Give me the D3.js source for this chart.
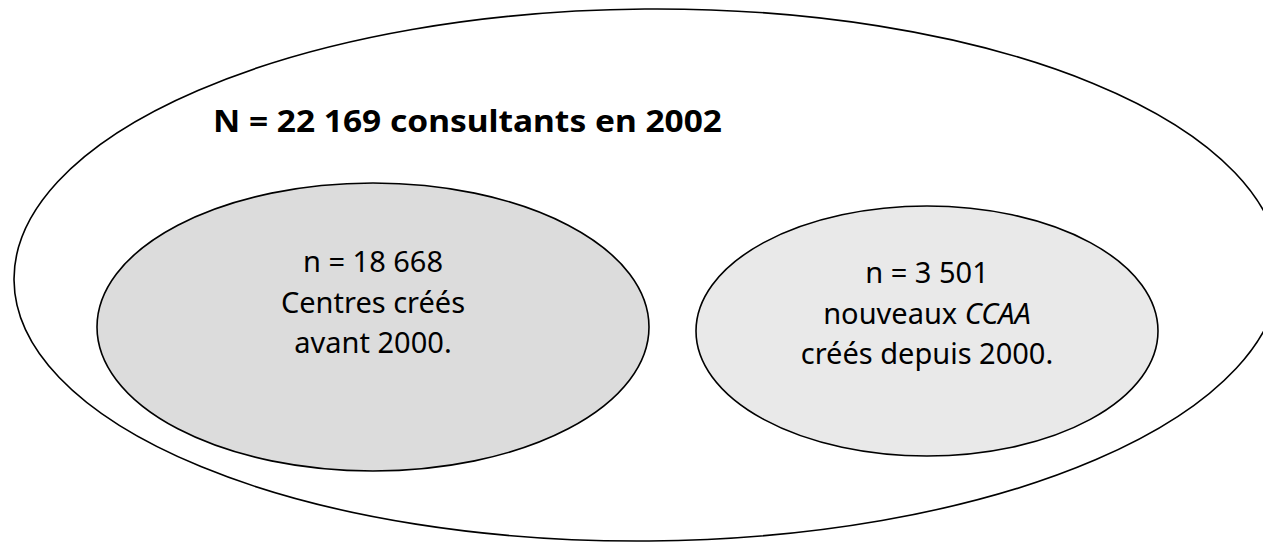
<!DOCTYPE html>
<html>
<head>
<meta charset="utf-8">
<script src="https://cdn.jsdelivr.net/npm/d3@7"></script>
<style>
  html, body { margin: 0; padding: 0; background: #fff; }
  svg { display: block; }
</style>
</head>
<body>
<svg id="chart"></svg>
<script>
// data
const totalLabel = "N = 22 169 consultants en 2002";
const groupIds = ["avant", "depuis"];
const groupCounts = ["18 668", "3 501"];
const groupLines = [
  [["Centres créés"], ["avant 2000."]],
  [["nouveaux ", "CCAA"], ["créés depuis 2000."]]
];
const groupFills = ["#dcdcdc", "#e9e9e9"];

const width = 1263, height = 543;

// layout (pixel geometry of the diagram)
const outer = { cx: 647, cy: 275, rx: 633, ry: 266, rot: -0.45 };
const inner = [
  { cx: 373, cy: 327, rx: 276, ry: 144, textY: 272 },
  { cx: 927, cy: 331, rx: 231, ry: 125, textY: 283 }
];
const lineGap = 40.5;

const svg = d3.select("#chart")
  .attr("width", width)
  .attr("height", height);

const font = "'Comic Sans MS', 'Noto Sans', sans-serif";

// outer set
svg.append("ellipse")
  .attr("cx", outer.cx)
  .attr("cy", outer.cy)
  .attr("rx", outer.rx)
  .attr("ry", outer.ry)
  .attr("transform", `rotate(${outer.rot} ${outer.cx} ${outer.cy})`)
  .attr("fill", "#fff")
  .attr("stroke", "#000")
  .attr("stroke-width", 1.6);

svg.append("text")
  .attr("x", 213)
  .attr("y", 132)
  .attr("font-family", font)
  .attr("font-weight", "bold")
  .attr("font-size", 31)
  .attr("textLength", 509)
  .attr("lengthAdjust", "spacingAndGlyphs")
  .attr("fill", "#000")
  .text(totalLabel);

// inner sets
const groups = svg.selectAll("g.set")
  .data(groupIds.map((id, i) => ({
    id: id,
    count: groupCounts[i],
    lines: groupLines[i],
    fill: groupFills[i],
    geo: inner[i]
  })))
  .enter().append("g")
    .attr("class", "set");

groups.append("ellipse")
  .attr("cx", d => d.geo.cx)
  .attr("cy", d => d.geo.cy)
  .attr("rx", d => d.geo.rx)
  .attr("ry", d => d.geo.ry)
  .attr("fill", d => d.fill)
  .attr("stroke", "#000")
  .attr("stroke-width", 1.6);

const labels = groups.append("text")
  .attr("text-anchor", "middle")
  .attr("font-family", font)
  .attr("font-size", 29)
  .attr("fill", "#000");

labels.append("tspan")
  .attr("x", d => d.geo.cx)
  .attr("y", d => d.geo.textY)
  .text(d => "n = " + d.count);

labels.each(function (d) {
  const t = d3.select(this);
  d.lines.forEach((parts, j) => {
    const line = t.append("tspan")
      .attr("x", d.geo.cx)
      .attr("y", d.geo.textY + lineGap * (j + 1));
    parts.forEach((p, k) => {
      line.append("tspan")
        .attr("font-style", p === "CCAA" ? "italic" : null)
        .text(p);
    });
  });
});
</script>
</body>
</html>
